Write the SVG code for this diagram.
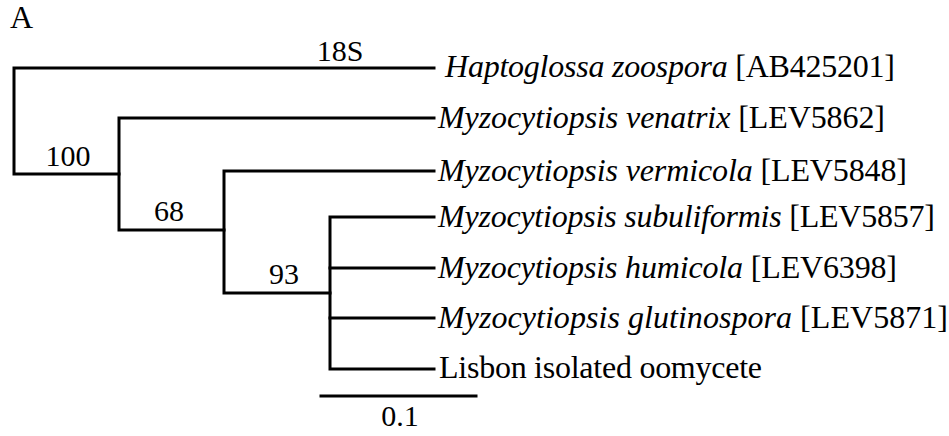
<svg xmlns="http://www.w3.org/2000/svg" width="949" height="436" viewBox="0 0 949 436">
<style>
text{font-family:"Liberation Serif","Times New Roman",serif;font-size:30px;fill:#000}
.lf{font-size:32px}
.i{font-style:italic}
.br{fill:none;stroke:#000;stroke-width:3;stroke-linecap:square}
</style>
<rect width="949" height="436" fill="#fff"/>
<g id="panel-label"><text class="lf" x="10" y="28">A</text></g>
<g id="connectors">
<path class="br" d="M434,68H14V174H119"/>
<path class="br" d="M434,118H119V230H224"/>
<path class="br" d="M434,171H224V293H330"/>
<path class="br" d="M434,217H330V369H434"/>
<path class="br" d="M330,268H434"/>
<path class="br" d="M330,318H434"/>
<path class="br" d="M321,396H476"/>
</g>
<g id="labels">
<text x="340" y="61" text-anchor="middle">18S</text>
<text x="68" y="166" text-anchor="middle">100</text>
<text x="169" y="221" text-anchor="middle">68</text>
<text x="284" y="284" text-anchor="middle">93</text>
<text x="400" y="426" text-anchor="middle">0.1</text>
</g>
<g id="leaf-haptoglossa"><text class="lf" x="445" y="77" textLength="450" lengthAdjust="spacing"><tspan class="i">Haptoglossa zoospora</tspan> [AB425201]</text></g>
<g id="leaf-venatrix"><text class="lf" x="438" y="127.5" textLength="447" lengthAdjust="spacing"><tspan class="i">Myzocytiopsis venatrix</tspan> [LEV5862]</text></g>
<g id="leaf-vermicola"><text class="lf" x="438" y="180.5" textLength="469" lengthAdjust="spacing"><tspan class="i">Myzocytiopsis vermicola</tspan> [LEV5848]</text></g>
<g id="leaf-subuliformis"><text class="lf" x="438" y="226.5" textLength="497" lengthAdjust="spacing"><tspan class="i">Myzocytiopsis subuliformis</tspan> [LEV5857]</text></g>
<g id="leaf-humicola"><text class="lf" x="438" y="277.5" textLength="459" lengthAdjust="spacing"><tspan class="i">Myzocytiopsis humicola</tspan> [LEV6398]</text></g>
<g id="leaf-glutinospora"><text class="lf" x="438" y="327.5" textLength="510" lengthAdjust="spacing"><tspan class="i">Myzocytiopsis glutinospora</tspan> [LEV5871]</text></g>
<g id="leaf-lisbon"><text class="lf" x="439" y="378" textLength="323" lengthAdjust="spacing">Lisbon isolated oomycete</text></g>
</svg>
